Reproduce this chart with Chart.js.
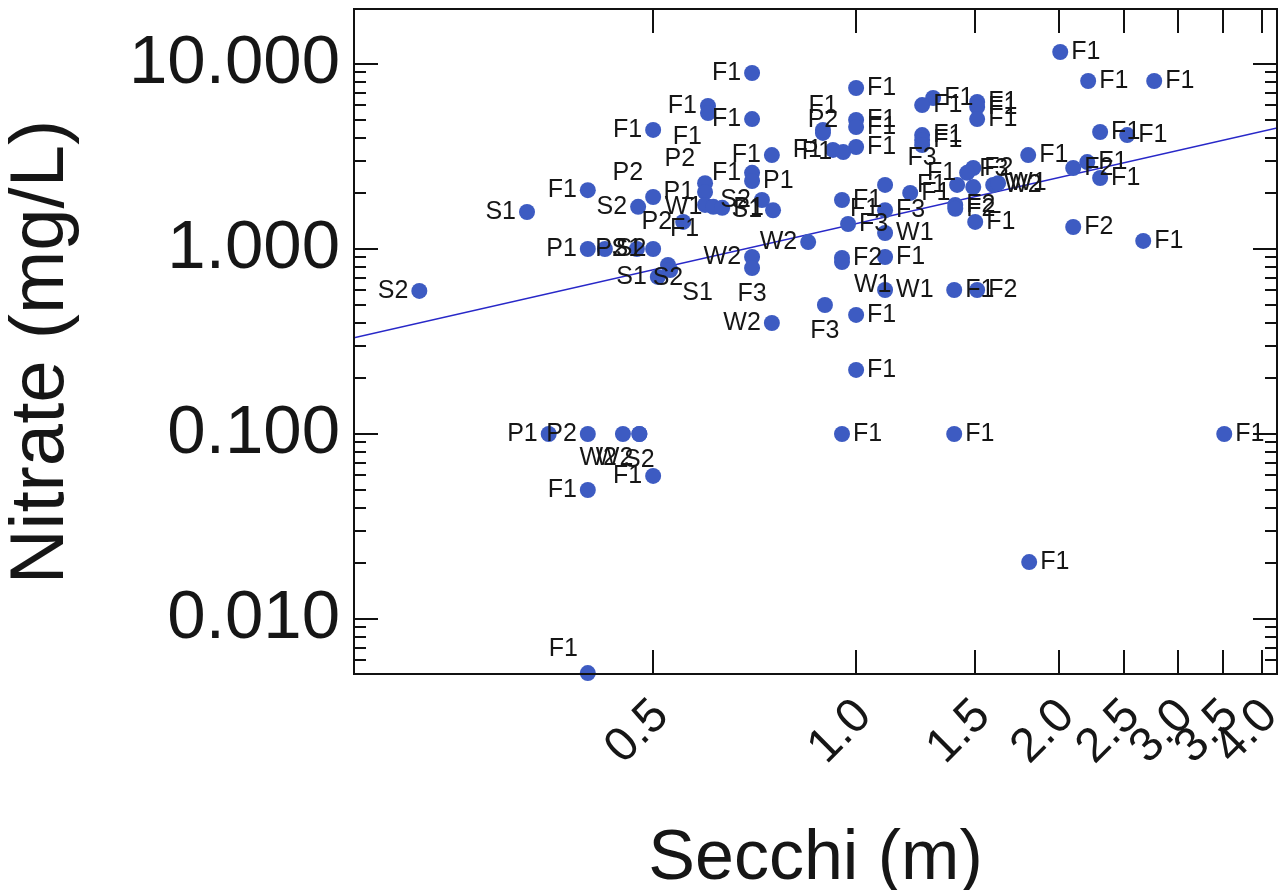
<!DOCTYPE html>
<html><head><meta charset="utf-8">
<script src="https://cdn.jsdelivr.net/npm/chart.js@4.4.1/dist/chart.umd.min.js"></script>
<style>html,body{margin:0;padding:0;background:#fff;overflow:hidden}#wrap{width:1288px;height:890px}</style>
</head><body><div id="wrap"><canvas id="c" width="1288" height="890"></canvas></div>
<script>
// ---- data ----
const siteLabels = ['S2','S1','F1','P1','S2','P2','S1','S2','P2','F1','F1','F1','F1','F1','F1','F1','P1','P2','P1','F1','W1','P2','P1','S2','S1','W2','W2','F3','S2','S1','S1','W2','P1','P2','W2','W2','S2','F1','F1','F1','F1','F1','F1','F1','F1','F1','F3','W1','F1','F2','F2','W1','F1','F1','F2','W1','F1','F3','F1','F1','F1','F2','F2','F3','F2','F1','F1','F3','W2','W1','F1','F1','F1','F2','F1','F1','F1','F1','F1','F1','F1','F1','F1','F1','F1','F1','F1','P2','F1','F1','F1','P1','F1','F1','F3'];
const secchi = [0.225,0.325,0.400,0.400,0.424,0.473,0.500,0.475,0.500,0.500,0.603,0.603,0.701,0.701,0.750,0.701,0.701,0.597,0.597,0.597,0.614,0.554,0.633,0.725,0.753,0.849,0.701,0.701,0.526,0.508,0.530,0.750,0.350,0.400,0.451,0.477,0.477,0.400,0.500,0.400,0.953,1.398,3.516,1.806,1.000,1.000,0.899,1.104,1.398,1.512,0.953,0.953,1.104,2.666,2.099,1.104,1.502,0.973,0.953,1.104,1.203,1.403,1.403,1.104,1.492,1.461,1.412,1.492,1.597,1.624,1.800,2.301,2.524,2.099,2.202,2.301,2.008,2.209,2.768,1.000,1.301,1.253,1.512,1.512,1.512,1.000,1.000,0.893,0.893,1.000,0.924,0.957,1.253,1.253,1.253];
const nitrate = [0.593,1.585,2.08,1.00,1.00,1.00,1.00,1.69,1.91,4.40,5.93,5.43,8.94,5.04,3.22,2.58,2.33,2.27,2.03,1.73,1.69,1.40,1.67,1.84,1.62,1.09,0.905,0.789,0.820,0.706,0.770,0.398,0.100,0.100,0.100,0.100,0.100,0.0498,0.0593,0.0051,0.100,0.100,0.100,0.0203,0.222,0.440,0.498,0.600,0.600,0.600,0.894,0.850,0.905,1.105,1.315,1.22,1.40,1.365,1.84,2.22,2.01,1.73,1.65,1.62,2.74,2.58,2.22,2.16,2.22,2.27,3.22,4.29,4.13,2.74,2.95,2.42,11.61,8.09,8.09,7.42,6.55,6.00,6.23,5.86,5.04,4.98,4.56,4.24,4.40,3.56,3.43,3.34,4.13,3.88,3.65];
const labelSide = ['l','l','l','l','r','l','l','l','tl','l','l','bl','l','l','l','l','r','tl','l','bl','l','l','r','l','l','l','l','b','bn','l','br','l','l','l','bl','bl','b','l','l','tl','r','r','r','r','r','r','b','r','r','r','r','br','r','r','r','r','r','r','r','bl','r','r','r','r','r','l','l','tr','r','r','r','r','r','r','r','r','r','r','r','r','r','r','r','r','r','r','r','tn','t','r','l','l','r','r','bn'];
const fitSecchi = [0.18, 4.21];
const fitNitrate = [0.331, 4.51];
const xTickValues = [0.5, 1, 1.5, 2, 2.5, 3, 3.5, 4];
const xTickLabels = ['0.5','1.0','1.5','2.0','2.5','3.0','3.5','4.0'];
const yTickValues = [0.01, 0.1, 1, 10];
const yTickLabels = ['0.010','0.100','1.000','10.000'];
const yMinorTicks = [0.006,0.007,0.008,0.009,0.02,0.03,0.04,0.05,0.06,0.07,0.08,0.09,0.2,0.3,0.4,0.5,0.6,0.7,0.8,0.9,2,3,4,5,6,7,8,9];
const xMin = 0.18, xMax = 4.21, yMin = 0.00504, yMax = 19.83;

const FONT = "'Liberation Sans', Arial, Helvetica, sans-serif";
const INK = '#161616';

const sideStyle = {
  r:[11,0,'left'], l:[-11,0,'right'], t:[0,-24,'center'], tn:[0,-13,'center'],
  b:[0,26,'center'], bn:[0,13,'center'], bl:[-6,24,'right'], br:[12,23,'left'],
  tl:[-10,-24,'right'], tr:[6,-18,'left']
};

const frameTicks = {
  id:'frameTicks',
  afterDraw(chart){
    const {ctx, chartArea:a, scales:{x, y}} = chart;
    ctx.save();
    ctx.strokeStyle = '#111'; ctx.lineWidth = 2;
    ctx.strokeRect(a.left, a.top, a.right - a.left, a.bottom - a.top);
    ctx.beginPath();
    xTickValues.forEach(v => {
      const px = Math.round(x.getPixelForValue(v));
      ctx.moveTo(px, a.bottom); ctx.lineTo(px, a.bottom - 24);
      ctx.moveTo(px, a.top); ctx.lineTo(px, a.top + 24);
    });
    yTickValues.forEach(v => {
      const py = Math.round(y.getPixelForValue(v));
      ctx.moveTo(a.left, py); ctx.lineTo(a.left + 24, py);
      ctx.moveTo(a.right, py); ctx.lineTo(a.right - 24, py);
    });
    yMinorTicks.forEach(v => {
      const py = Math.round(y.getPixelForValue(v));
      if (py < a.top || py > a.bottom) return;
      ctx.moveTo(a.left, py); ctx.lineTo(a.left + 12, py);
      ctx.moveTo(a.right, py); ctx.lineTo(a.right - 12, py);
    });
    ctx.stroke();
    ctx.restore();
  }
};

const pointLabels = {
  id:'pointLabels',
  afterDatasetsDraw(chart){
    const ctx = chart.ctx;
    const meta = chart.getDatasetMeta(1);
    ctx.save();
    ctx.font = '25px ' + FONT;
    ctx.fillStyle = INK;
    ctx.textBaseline = 'middle';
    meta.data.forEach((el, i) => {
      const s = sideStyle[labelSide[i]] || sideStyle.r;
      ctx.textAlign = s[2];
      ctx.fillText(siteLabels[i], el.x + s[0], el.y + s[1]);
    });
    ctx.restore();
  }
};

new Chart(document.getElementById('c'), {
  type: 'scatter',
  data: {
    datasets: [
      { data: fitSecchi.map((v, i) => ({x: v, y: fitNitrate[i]})), showLine: true,
        borderColor: '#2828c8', borderWidth: 1.6, pointRadius: 0, order: 2 },
      { data: secchi.map((v, i) => ({x: v, y: nitrate[i]})),
        backgroundColor: '#3d5bc2', borderWidth: 0, pointRadius: 8, pointHoverRadius: 8,
        clip: false, order: 1 }
    ]
  },
  options: {
    responsive: false, animation: false, events: [],
    layout: { padding: { left: 0, right: 11, top: 9, bottom: 0 } },
    plugins: { legend: { display: false }, tooltip: { enabled: false } },
    scales: {
      x: {
        type: 'logarithmic', min: xMin, max: xMax, bounds: 'data',
        grid: { display: false, drawTicks: false }, border: { display: false },
        afterBuildTicks(s){ s.ticks = xTickValues.map(v => ({value: v})); },
        afterFit(s){ s.height = 216; s.paddingLeft = 0; s.paddingRight = 0; },
        ticks: { autoSkip: false, minRotation: 45, maxRotation: 45, padding: 14, labelOffset: 8, color: INK,
          font: { family: FONT, size: 48 },
          callback: (v) => { const i = xTickValues.indexOf(v); return i >= 0 ? xTickLabels[i] : ''; } },
        title: { display: true, text: 'Secchi (m)', color: INK,
          font: { family: FONT, size: 70, lineHeight: 0.8 }, padding: { top: 0, bottom: 2 } }
      },
      y: {
        type: 'logarithmic', min: yMin, max: yMax, bounds: 'data',
        grid: { display: false, drawTicks: false }, border: { display: false },
        afterBuildTicks(s){ s.ticks = yTickValues.map(v => ({value: v})); },
        afterFit(s){ s.width = 354; s.paddingTop = 0; s.paddingBottom = 0; },
        ticks: { padding: 14, color: INK, font: { family: FONT, size: 69 },
          callback: (v) => { const i = yTickValues.indexOf(v); return i >= 0 ? yTickLabels[i] : ''; } },
        title: { display: true, text: 'Nitrate (mg/L) ', color: INK,
          font: { family: FONT, size: 76, lineHeight: 1 }, padding: { top: 4, bottom: 0 } }
      }
    }
  },
  plugins: [frameTicks, pointLabels]
});
</script>
</body></html>
